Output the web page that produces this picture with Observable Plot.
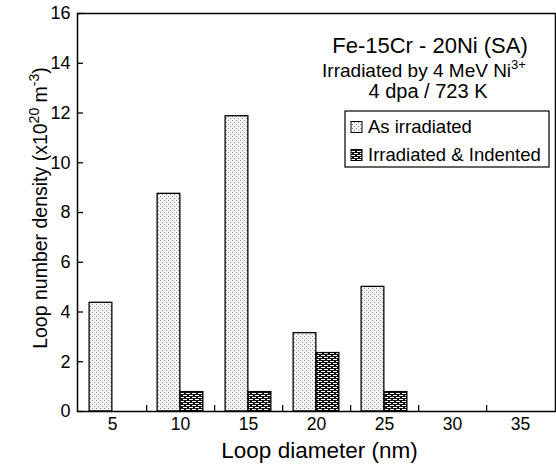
<!DOCTYPE html>
<html>
<head>
<meta charset="utf-8">
<script src="https://cdn.jsdelivr.net/npm/d3@7"></script>
<script src="https://cdn.jsdelivr.net/npm/@observablehq/plot@0.6"></script>
<style>
  html, body { margin: 0; padding: 0; background: #fff; }
  #chart { position: relative; width: 556px; height: 471px; }
  svg { font-family: "Liberation Sans", Arial, sans-serif; }
</style>
</head>
<body>
<div id="chart"></div>
<script>
// ---- data ----
const diameters = ["5", "10", "15", "20", "25", "30", "35"];
const asIrradiated = [4.37, 8.75, 11.87, 3.15, 5.01, 0, 0];
const irradiatedIndented = [0, 0.78, 0.78, 2.35, 0.78, 0, 0];
const yTicks = [0, 2, 4, 6, 8, 10, 12, 14, 16];
const seriesNames = ["As irradiated", "Irradiated & Indented"];
const titleLines = ["Fe-15Cr - 20Ni (SA)", "Irradiated by 4 MeV Ni", "4 dpa / 723 K"];

const rows = diameters.map((d, i) => ({d, a: asIrradiated[i], b: irradiatedIndented[i]}));

// ---- layout ----
const W = 556, H = 471;
const mL = 77, mR = 1, mT = 13, mB = 60;
const plotW = W - mL - mR, plotH = H - mT - mB;
const bw = plotW / diameters.length;
const barW = 23;
const font = "Liberation Sans, Arial, sans-serif";

const chart = Plot.plot({
  width: W,
  height: H,
  marginLeft: mL, marginRight: mR, marginTop: mT, marginBottom: mB,
  style: {fontFamily: font, background: "white", color: "black"},
  x: {domain: diameters, padding: 0, axis: null},
  y: {domain: [0, 16], axis: null},
  marks: [
    Plot.barY(rows.filter(r => r.a > 0), {
      x: "d", y: "a", fill: "url(#dots)", stroke: "black", strokeWidth: 1.3,
      insetLeft: bw / 2 - barW, insetRight: bw / 2
    }),
    Plot.barY(rows.filter(r => r.b > 0), {
      x: "d", y: "b", fill: "url(#bricks)", stroke: "black", strokeWidth: 1.3,
      insetLeft: bw / 2, insetRight: bw / 2 - barW
    }),
    Plot.ruleY(yTicks, {y: d => d, insetRight: plotW - 6, stroke: "black", strokeWidth: 1.3}),
    Plot.ruleX(diameters.slice(0, -1), {x: d => d, dx: bw / 2, insetTop: plotH - 6, stroke: "black", strokeWidth: 1.3}),
    Plot.frame({stroke: "black", strokeWidth: 1.5}),
    Plot.text(yTicks, {y: d => d, text: d => String(d), frameAnchor: "left", dx: -7, textAnchor: "end", fontSize: 18}),
    Plot.text(diameters, {x: d => d, text: d => d, frameAnchor: "bottom", dy: 18, fontSize: 17.5}),
    Plot.text(["Loop diameter (nm)"], {text: d => d, frameAnchor: "bottom", dy: 46, dx: 3, fontSize: 22.5})
  ]
});

document.getElementById("chart").appendChild(chart);

const svg = d3.select(chart);
const defs = svg.insert("defs", ":first-child");
// stipple pattern
const p1 = defs.append("pattern").attr("id", "dots").attr("patternUnits", "userSpaceOnUse")
  .attr("width", 4).attr("height", 4);
p1.append("rect").attr("width", 4).attr("height", 4).attr("fill", "#f4f4f4");
p1.append("rect").attr("x", 0).attr("y", 0).attr("width", 1).attr("height", 1).attr("fill", "#8a8a8a");
p1.append("rect").attr("x", 2).attr("y", 2).attr("width", 1).attr("height", 1).attr("fill", "#8a8a8a");
// brick/dash pattern
const p2 = defs.append("pattern").attr("id", "bricks").attr("patternUnits", "userSpaceOnUse")
  .attr("width", 6).attr("height", 4);
p2.append("rect").attr("width", 6).attr("height", 4).attr("fill", "#111");
p2.append("rect").attr("x", 0).attr("y", 1).attr("width", 4).attr("height", 1).attr("fill", "white");
p2.append("rect").attr("x", 3).attr("y", 3).attr("width", 3).attr("height", 1).attr("fill", "white");
p2.append("rect").attr("x", 0).attr("y", 3).attr("width", 1).attr("height", 1).attr("fill", "white");

// y axis label with superscripts
const yl = svg.append("text")
  .attr("transform", `translate(42,208) rotate(-90)`)
  .attr("text-anchor", "middle").attr("dominant-baseline", "middle")
  .attr("font-size", 19.5).attr("font-family", font).attr("fill", "black");
yl.append("tspan").text("Loop number density (x10");
yl.append("tspan").attr("font-size", 14).attr("dy", -7).text("20");
yl.append("tspan").attr("dy", 7).text(" m");
yl.append("tspan").attr("font-size", 14).attr("dy", -7).text("-3");
yl.append("tspan").attr("dy", 7).text(")");

// annotation block
const ann = svg.append("g").attr("font-family", font).attr("fill", "black").attr("text-anchor", "middle");
ann.append("text").attr("x", 430).attr("y", 53).attr("font-size", 22).text(titleLines[0]);
const st = ann.append("text").attr("x", 424).attr("y", 77).attr("font-size", 19);
st.append("tspan").text(titleLines[1]);
st.append("tspan").attr("font-size", 13).attr("dy", -8).text("3+");
ann.append("text").attr("x", 428).attr("y", 98).attr("font-size", 20).text(titleLines[2]);

// legend
const lg = svg.append("g").attr("font-family", font).attr("font-size", 18.5).attr("text-anchor", "start");
lg.append("rect").attr("x", 345).attr("y", 111).attr("width", 204).attr("height", 56)
  .attr("fill", "white").attr("stroke", "black").attr("stroke-width", 1.2);
const fills = ["url(#dots)", "url(#bricks)"];
seriesNames.forEach((name, i) => {
  const cy = 127 + i * 28;
  lg.append("rect").attr("x", 351).attr("y", cy - 5.5).attr("width", 11).attr("height", 11)
    .attr("fill", fills[i]).attr("stroke", "black").attr("stroke-width", 1);
  lg.append("text").attr("x", 368).attr("y", cy).attr("dy", "0.35em").attr("text-anchor", "start").attr("fill", "black").text(name);
});
</script>
</body>
</html>
